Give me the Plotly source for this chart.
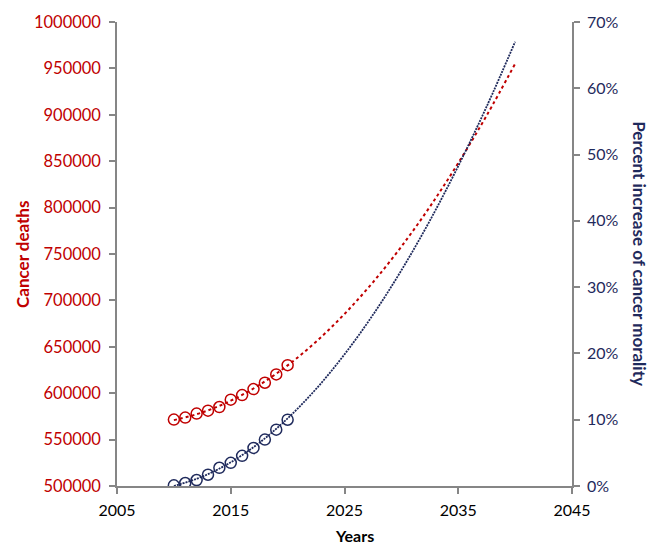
import plotly.graph_objects as go

# Observed yearly values
years = [2010, 2011, 2012, 2013, 2014, 2015, 2016, 2017, 2018, 2019, 2020]
deaths = [571600, 573700, 578000, 581200, 585100, 593000, 598000, 604400, 611300, 620200, 630200]
pct_increase = [0.1, 0.45, 0.9, 1.7, 2.75, 3.5, 4.55, 5.75, 7.0, 8.5, 10.0]

# Projected trend curves, 2010-2040
trend_years = [2010, 2012.5, 2015, 2017.5, 2020, 2022.5, 2025, 2027.5, 2030, 2032.5, 2035, 2037.5, 2040]
trend_deaths = [571000, 579300, 591900, 608800, 630000, 655500, 685400, 719500, 758000, 800800, 848000, 899300, 955000]
trend_pct = [0.0, 1.41, 3.58, 6.51, 10.2, 14.64, 19.86, 25.82, 32.54, 40.02, 48.27, 57.26, 67.02]

x_ticks = [2005, 2015, 2025, 2035, 2045]
left_ticks = list(range(500000, 1000001, 50000))
left_labels = [str(v) for v in left_ticks]
right_ticks = list(range(0, 71, 10))
right_labels = [f"{v}%" for v in right_ticks]

RED = "#C00000"
NAVY = "#1F2A5C"
AXIS = "#868686"
FONT = "Lato"

fig = go.Figure()

fig.add_trace(go.Scatter(
    x=trend_years, y=trend_deaths, mode="lines", line_shape="spline",
    line=dict(color=RED, width=2, dash="3px,3px"), showlegend=False, hoverinfo="skip"))
fig.add_trace(go.Scatter(
    x=years, y=deaths, mode="markers",
    marker=dict(symbol="circle-open", size=11, color=RED, line=dict(width=1.5, color=RED)),
    showlegend=False))

fig.add_trace(go.Scatter(
    x=trend_years, y=trend_pct, mode="lines", line_shape="spline", yaxis="y2",
    line=dict(color=NAVY, width=1.8, dash="2px,1px"), showlegend=False, hoverinfo="skip"))
fig.add_trace(go.Scatter(
    x=years, y=pct_increase, mode="markers", yaxis="y2",
    marker=dict(symbol="circle-open", size=11, color=NAVY, line=dict(width=1.5, color=NAVY)),
    showlegend=False))

fig.update_layout(
    width=657, height=546,
    margin=dict(l=117, r=85, t=20, b=60),
    paper_bgcolor="white", plot_bgcolor="white",
    font=dict(family=FONT, size=16, color="#000000"),
    xaxis=dict(
        range=[2005, 2045], tickmode="array", tickvals=x_ticks, ticktext=[str(v) for v in x_ticks],
        showgrid=False, zeroline=False,
        showline=True, linecolor=AXIS, linewidth=1.5,
        ticks="outside", ticklen=6, tickcolor=AXIS, tickwidth=1.5, ticklabelstandoff=3,
        tickfont=dict(family=FONT, size=16, color="#000000")),
    yaxis=dict(
        range=[500000, 1000000], tickmode="array", tickvals=left_ticks, ticktext=left_labels,
        showgrid=False, zeroline=False,
        showline=True, linecolor=AXIS, linewidth=1.5,
        ticks="outside", ticklen=6, tickcolor=AXIS, tickwidth=1.5, ticklabelstandoff=5,
        tickfont=dict(family=FONT, size=16.5, color=RED)),
    yaxis2=dict(
        range=[0, 70], tickmode="array", tickvals=right_ticks, ticktext=right_labels,
        overlaying="y", side="right",
        showgrid=False, zeroline=False,
        showline=True, linecolor=AXIS, linewidth=1.5,
        ticks="outside", ticklen=6, tickcolor=AXIS, tickwidth=1.5, ticklabelstandoff=4,
        tickfont=dict(family=FONT, size=16, color=NAVY)),
    annotations=[
        dict(text="<b>Cancer deaths</b>", xref="paper", yref="paper",
             x=-0.209, y=0.5, xanchor="center", yanchor="middle", textangle=-90,
             showarrow=False, font=dict(family=FONT, size=17, color=RED)),
        dict(text="<b>Percent increase of cancer morality</b>", xref="paper", yref="paper",
             x=1.149, y=0.5, xanchor="center", yanchor="middle", textangle=90,
             showarrow=False, font=dict(family=FONT, size=17, color=NAVY)),
        dict(text="<b>Years</b>", xref="paper", yref="paper",
             x=0.523, y=-0.107, xanchor="center", yanchor="middle",
             showarrow=False, font=dict(family=FONT, size=16, color="#000000")),
    ],
)

fig.write_html("out.html")
